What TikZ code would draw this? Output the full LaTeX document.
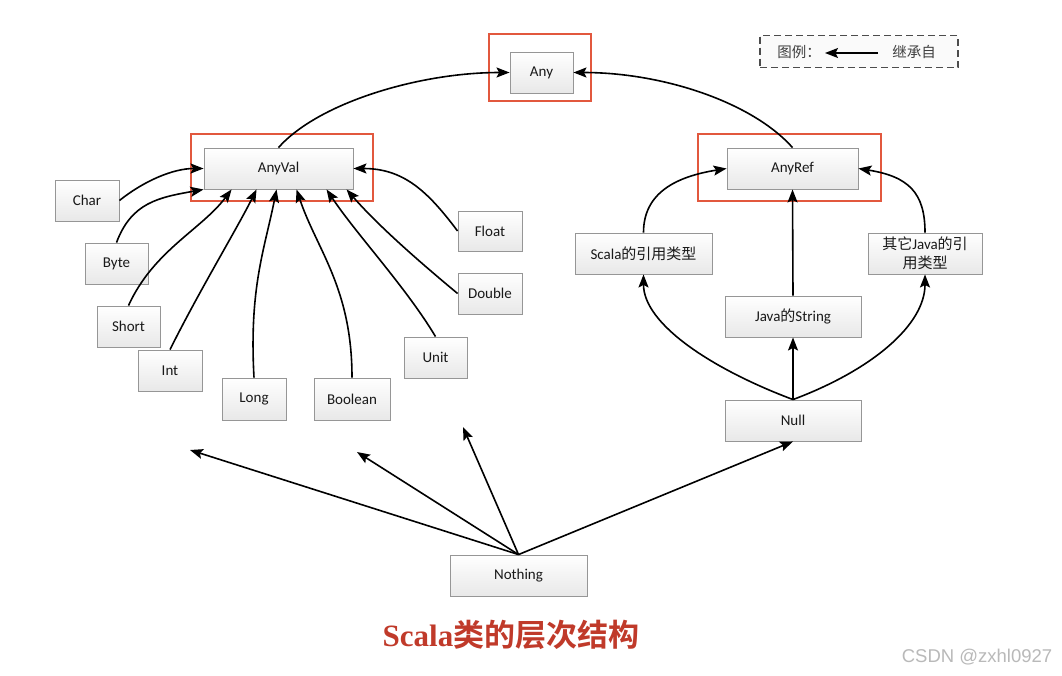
\documentclass[tikz,border=0pt]{standalone}
\usepackage{fontspec}
\setmainfont{Carlito}
\newfontfamily\cjk{Noto Sans CJK SC}
\newfontfamily\cjkb{Noto Sans CJK SC Bold}
\newfontfamily\titleserif{Liberation Serif}
\newfontfamily\wmfont{Liberation Sans}
\usetikzlibrary{arrows.meta,shadows}
\definecolor{framered}{RGB}{226,88,62}
\definecolor{titlered}{RGB}{192,58,42}
\definecolor{boxline}{RGB}{150,150,150}
\begin{document}
\begin{tikzpicture}[x=1pt,y=-1pt,
  box/.style={draw=boxline, line width=0.9pt, top color=white, bottom color=gray!18,
    minimum height=41pt, inner sep=2pt, font=\fontsize{15}{19}\selectfont, text=black!90,
    drop shadow={opacity=0.2, shadow xshift=1.3pt, shadow yshift=-1.3pt}},
  redframe/.style={draw=framered, line width=2.8pt, minimum height=67pt, inner sep=0pt},
  inh/.style={-{Stealth[length=13pt,width=10pt,inset=2.5pt]}, line width=1.6pt, black},
  legendbox/.style={draw=black!70, dash pattern=on 7pt off 4pt, line width=1.4pt, fill=gray!4, inner sep=0pt},
  legtext/.style={font=\cjk\fontsize{14.5}{16}\selectfont, text=black!75, inner sep=1pt},
]
\useasboundingbox (0,0) rectangle (1062,675);
\fill[white] (0,0) rectangle (1062,675);

% red frames
\node[redframe, minimum width=102pt] (anyframe) at (540,67.5) {};
\node[redframe, minimum width=182pt] (anyvalframe) at (282,167.5) {};
\node[redframe, minimum width=183pt] (anyrefframe) at (789.5,167.5) {};

% boxes
\node[box, minimum width=63pt] (any) at (541.5,72.5) {Any};
\node[box, minimum width=149pt] (anyval) at (278.5,168.5) {AnyVal};
\node[box, minimum width=131pt] (anyref) at (792.5,168.5) {AnyRef};
\node[box, minimum width=64pt] (char) at (87,200.5) {Char};
\node[box, minimum width=63pt] (byte) at (116.5,263.5) {Byte};
\node[box, minimum width=63pt] (short) at (128.5,326.5) {Short};
\node[box, minimum width=64pt] (int) at (170,370.5) {Int};
\node[box, minimum width=64pt, minimum height=42pt] (long) at (254,399) {Long};
\node[box, minimum width=76pt, minimum height=42pt] (boolean) at (352,399) {Boolean};
\node[box, minimum width=63pt] (unit) at (435.5,357.5) {Unit};
\node[box, minimum width=64pt, minimum height=40pt] (float) at (490,231) {Float};
\node[box, minimum width=64pt] (double) at (490,293.5) {Double};
\node[box, minimum width=137pt] (scala) at (643.5,253.5) {Scala{\cjk 的引用类型}};
\node[box, minimum width=136pt] (string) at (793,316.5) {Java{\cjk 的}String};
\node[box, minimum width=114pt, align=center] (other) at (925,253.5) {{\cjk 其它}Java{\cjk 的引}\\{\cjk 用类型}};
\node[box, minimum width=136pt] (null) at (793,420.5) {Null};
\node[box, minimum width=137pt] (nothing) at (518.5,575.5) {Nothing};

% to Any
\draw[inh] (anyval.north) .. controls +(40,-45) and +(-90,0) .. (any.west);
\draw[inh] (anyref.north) .. controls +(-40,-45) and +(90,0) .. (any.east);

% to AnyVal
\draw[inh] (char.east) .. controls +(25,-20) and +(-30,0) .. (anyval.west);
\draw[inh] (byte.north) .. controls +(15,-40) and +(-45,8) .. (anyval.south west);
\draw[inh] (short.north) .. controls +(25,-55) and +(-30,40) .. ([xshift=28pt]anyval.south west);
\draw[inh] (int.north) .. controls +(30,-60) and +(-20,40) .. ([xshift=53pt]anyval.south west);
\draw[inh] (long.north) .. controls +(-5,-90) and +(-12,60) .. ([xshift=73pt]anyval.south west);
\draw[inh] (boolean.north) .. controls +(0,-90) and +(20,60) .. ([xshift=93pt]anyval.south west);
\draw[inh] (unit.north) .. controls +(-30,-50) and +(30,45) .. ([xshift=123pt]anyval.south west);
\draw[inh] (double.west) .. controls +(-30,-25) and +(35,40) .. ([xshift=143pt]anyval.south west);
\draw[inh] (float.west) .. controls +(-30,-40) and +(50,0) .. (anyval.east);

% to AnyRef
\draw[inh] (scala.north) .. controls +(0,-40) and +(-50,8) .. (anyref.west);
\draw[inh] (other.north) .. controls +(0,-40) and +(50,8) .. (anyref.east);
\draw[inh] (string.north) -- (anyref.south);

% from Null
\draw[inh] (null.north) -- (string.south);
\draw[inh] (null.north) .. controls +(-80,-30) and +(0,50) .. (scala.south);
\draw[inh] (null.north) .. controls +(80,-30) and +(0,50) .. (other.south);

% from Nothing
\coordinate (t1) at (190,450);
\coordinate (t2) at (357,452);
\coordinate (t3) at (463,427);
\draw[inh] (nothing.north) -- (t1);
\draw[inh] (nothing.north) -- (t2);
\draw[inh] (nothing.north) -- (t3);
\draw[inh] (nothing.north) -- (null.south);

% legend
\node[legendbox, minimum width=198pt, minimum height=32pt] (legend) at (859,51.5) {};
\node[legtext] (legl) at (799,52) {图例：};
\node[legtext] (legr) at (914,52) {继承自};
\coordinate (legA) at (878,53);
\coordinate (legB) at (825,53);
\draw[inh, line width=1.6pt] (legA) -- (legB);

% title
\node[text=titlered, font=\fontsize{31}{34}\selectfont, inner sep=0pt] (title) at (511,635)
  {{\titleserif\bfseries Scala}{\cjkb 类的层次结构}};

% watermark
\node[text=gray!55, font=\wmfont\fontsize{18.5}{20}\selectfont, inner sep=0pt] (wm) at (977,657) {CSDN @zxhl0927};
\end{tikzpicture}
\end{document}
